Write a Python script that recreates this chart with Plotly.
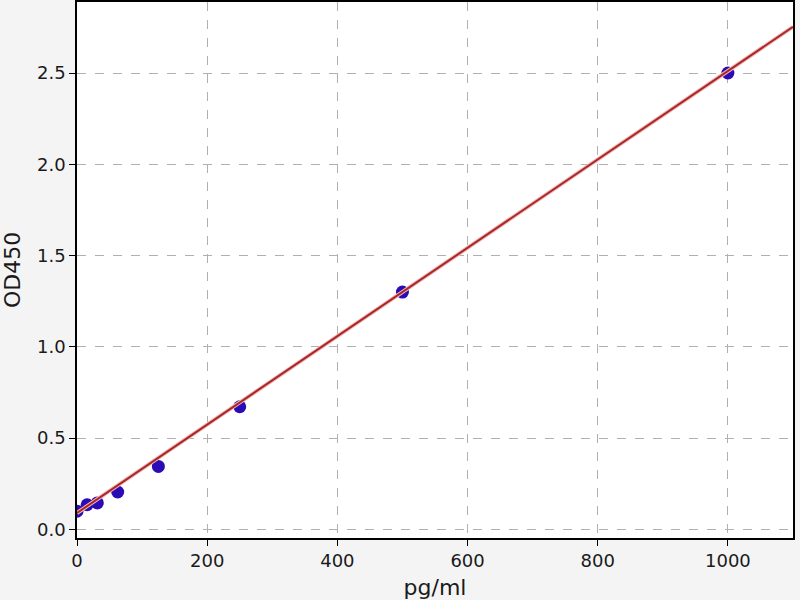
import plotly.graph_objects as go

# standard curve points
conc = [0, 15.6, 31.25, 62.5, 125, 250, 500, 1000]
od450 = [0.10, 0.135, 0.145, 0.205, 0.345, 0.672, 1.30, 2.50]

# fitted line endpoints
fit_x = [0, 1100]
fit_y = [0.09, 2.753]

fig = go.Figure()

fig.add_trace(go.Scatter(
    x=conc, y=od450,
    mode='markers',
    marker=dict(color='#2a0bb5', size=13),
    showlegend=False
))

fig.add_trace(go.Scatter(
    x=fit_x, y=fit_y,
    mode='lines',
    line=dict(color='#f2b8b8', width=4),
    showlegend=False, hoverinfo='skip'
))
fig.add_trace(go.Scatter(
    x=fit_x, y=fit_y,
    mode='lines',
    line=dict(color='#a82828', width=2),
    showlegend=False
))

axis_style = dict(
    showline=True, linecolor='black', linewidth=1.5, mirror=True,
    showgrid=True, gridcolor='#b0b0b0', griddash='dash', gridwidth=1,
    ticks='outside', ticklen=6, tickcolor='black',
    zeroline=False, automargin=False,
    tickfont=dict(family='DejaVu Sans', size=18, color='#1a1a1a'),
)

fig.update_layout(
    width=800, height=600,
    paper_bgcolor='#f4f4f4',
    plot_bgcolor='white',
    margin=dict(l=77, r=7, t=2, b=62),
    font=dict(family='DejaVu Sans', size=18, color='#1a1a1a'),
    xaxis=dict(range=[0, 1100], tickvals=[0, 200, 400, 600, 800, 1000],
               title=dict(text='pg/ml', standoff=10), **axis_style),
    yaxis=dict(range=[-0.047, 2.889], tickvals=[0, 0.5, 1.0, 1.5, 2.0, 2.5],
               tickformat='.1f', title=dict(text='OD450', standoff=10), **axis_style),
)

# drop the page's default body margin so the figure sits at the window's corner
fig.write_html("out.html", config={'displayModeBar': False},
               post_script="document.body.style.margin='0';")
